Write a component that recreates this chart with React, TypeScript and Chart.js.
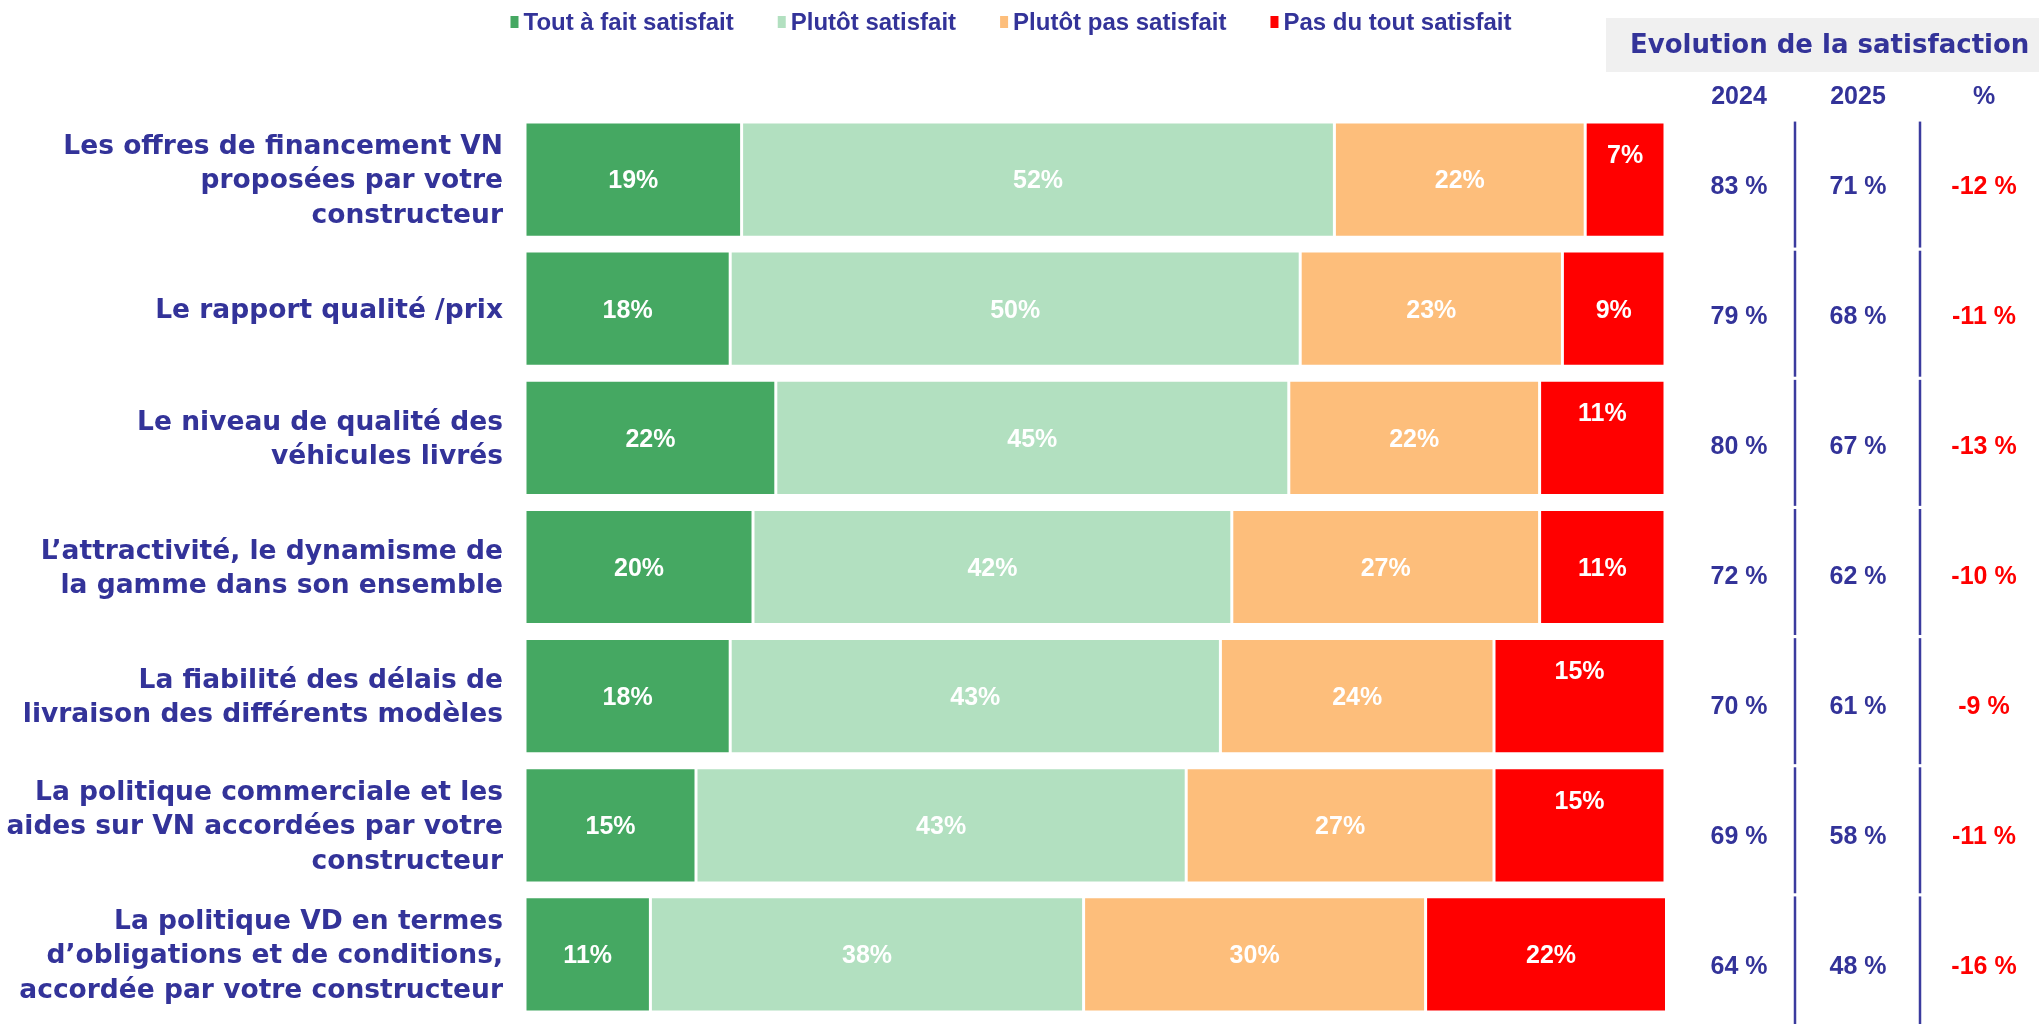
import React, { useEffect, useRef } from "react";
import { Chart, registerables } from "chart.js";

Chart.register(...registerables);

// ---------- DATA ----------
const categories: (string | string[])[] = [
  ["Les offres de financement VN", "proposées par votre", "constructeur"],
  "Le rapport qualité /prix",
  ["Le niveau de qualité des", "véhicules livrés"],
  ["L’attractivité, le dynamisme de", "la gamme dans son ensemble"],
  ["La fiabilité des délais de", "livraison des différents modèles"],
  ["La politique commerciale et les", "aides sur VN accordées par votre", "constructeur"],
  ["La politique VD en termes", "d’obligations et de conditions,", "accordée par votre constructeur"],
];
const seriesLabels = ["Tout à fait satisfait", "Plutôt satisfait", "Plutôt pas satisfait", "Pas du tout satisfait"];
const toutAFait = [19, 18, 22, 20, 18, 15, 11];
const plutotSatisfait = [52, 50, 45, 42, 43, 43, 38];
const plutotPas = [22, 23, 22, 27, 24, 27, 30];
const pasDuTout = [7, 9, 11, 11, 15, 15, 22];

const tableTitle = "Evolution de la satisfaction";
const tableHeaders = ["2024", "2025", "%"];
const sat2024 = [83, 79, 80, 72, 70, 69, 64];
const sat2025 = [71, 68, 67, 62, 61, 58, 48];
const evolution = [-12, -11, -13, -10, -9, -11, -16];

// label placement flag for the red segment (top vs centre)
const redLabelAtTop = [true, false, true, false, true, true, false];

// ---------- STYLE ----------
const NAVY = "#333399";
const COLORS = ["#45A862", "#B2E0C0", "#FDBE7B", "#FF0000"];
const SANS = "'Liberation Sans', Arial, sans-serif";
const TAHOMA = "'DejaVu Sans', Verdana, sans-serif";

const valueLabels = {
  id: "valueLabels",
  afterDatasetsDraw(chart: any) {
    const ctx = chart.ctx;
    ctx.save();
    ctx.font = `bold 25px ${SANS}`;
    ctx.fillStyle = "#ffffff";
    ctx.textAlign = "center";
    ctx.textBaseline = "middle";
    chart.data.datasets.forEach((ds: any, di: number) => {
      const meta = chart.getDatasetMeta(di);
      meta.data.forEach((bar: any, i: number) => {
        const p = bar.getProps(["x", "y", "base", "height"], true);
        const cx = (p.x + p.base) / 2;
        let cy = p.y + 2;
        if (di === 3 && redLabelAtTop[i]) cy = p.y - p.height / 2 + 34;
        ctx.fillText(ds.data[i] + "%", cx, cy);
      });
    });
    ctx.restore();
  },
};

const legendAndTable = {
  id: "legendAndTable",
  afterDraw(chart: any) {
    const ctx = chart.ctx;
    ctx.save();
    // ---- legend ----
    ctx.font = `bold 24px ${SANS}`;
    ctx.textBaseline = "middle";
    ctx.textAlign = "left";
    const boxW = 8, boxH = 12, boxGap = 5, itemGap = 44;
    const widths = seriesLabels.map((l) => ctx.measureText(l).width);
    const total = widths.reduce((a, w) => a + boxW + boxGap + w, 0) + itemGap * (seriesLabels.length - 1);
    let x = 1011 - total / 2;
    const ly = 22;
    chart.data.datasets.forEach((ds: any, i: number) => {
      ctx.fillStyle = ds.backgroundColor;
      ctx.fillRect(x, ly - boxH / 2, boxW, boxH);
      x += boxW + boxGap;
      ctx.fillStyle = NAVY;
      ctx.fillText(ds.label, x, ly + 1);
      x += widths[i] + itemGap;
    });

    // ---- table ----
    ctx.fillStyle = "#F0F0F0";
    ctx.fillRect(1606, 18, 433, 54);
    ctx.fillStyle = NAVY;
    ctx.font = `bold 26px ${TAHOMA}`;
    ctx.textAlign = "left";
    ctx.fillText(tableTitle, 1630, 46);

    const colX = [1739, 1858, 1984];
    const lineX = [1795, 1920];
    ctx.font = `bold 25px ${SANS}`;
    ctx.textAlign = "center";
    tableHeaders.forEach((h, k) => ctx.fillText(h, colX[k], 97));

    const ys = chart.scales.y;
    categories.forEach((_c, i) => {
      const yc = ys.getPixelForValue(i);
      const ty = yc + 8 + i * 0.7;
      ctx.fillStyle = NAVY;
      ctx.fillText(`${sat2024[i]} %`, colX[0], ty);
      ctx.fillText(`${sat2025[i]} %`, colX[1], ty);
      ctx.fillStyle = "#FF0000";
      ctx.fillText(`${evolution[i]} %`, colX[2], ty);
      ctx.strokeStyle = "#3B3B9E";
      ctx.lineWidth = 2.5;
      const y0 = yc - 58;
      const y1 = i === categories.length - 1 ? 1024 : yc + 68;
      lineX.forEach((lx) => {
        ctx.beginPath();
        ctx.moveTo(lx, y0);
        ctx.lineTo(lx, y1);
        ctx.stroke();
      });
    });
    ctx.restore();
  },
};

export default function App() {
  const ref = useRef<HTMLCanvasElement | null>(null);
  useEffect(() => {
    document.body.style.margin = "0";
    const canvas = ref.current!;
    const data = {
      labels: categories,
      datasets: [toutAFait, plutotSatisfait, plutotPas, pasDuTout].map((d, i) => ({
        label: seriesLabels[i],
        data: d,
        backgroundColor: COLORS[i],
        borderColor: "rgba(255,255,255,0.95)",
        borderWidth: 1.5,
        borderSkipped: false,
        barPercentage: 0.892,
        categoryPercentage: 1,
      })),
    };
    const chart = new Chart(canvas, {
      type: "bar",
      data: data as any,
      options: {
        indexAxis: "y",
        animation: false,
        responsive: false,
        devicePixelRatio: 1,
        layout: { padding: { top: 115, bottom: 5, left: 0, right: 374 } },
        plugins: { legend: { display: false }, tooltip: { enabled: false }, title: { display: false } },
        scales: {
          x: { stacked: true, min: 0, max: 100, display: false },
          y: {
            stacked: true,
            grid: { display: false, drawTicks: false },
            border: { display: false },
            ticks: {
              color: NAVY,
              padding: 22,
              labelOffset: 2,
              font: { family: TAHOMA, size: 26.5, weight: "bold", lineHeight: 1.3 },
            },
            afterFit: (scale: any) => {
              scale.width = 525;
              scale.paddingTop = 0;
              scale.paddingBottom = 0;
            },
          },
        },
      } as any,
      plugins: [valueLabels, legendAndTable],
    });
    return () => chart.destroy();
  }, []);
  return (
    <canvas ref={ref} width={2039} height={1024} style={{ display: "block", width: 2039, height: 1024 }} />
  );
}
